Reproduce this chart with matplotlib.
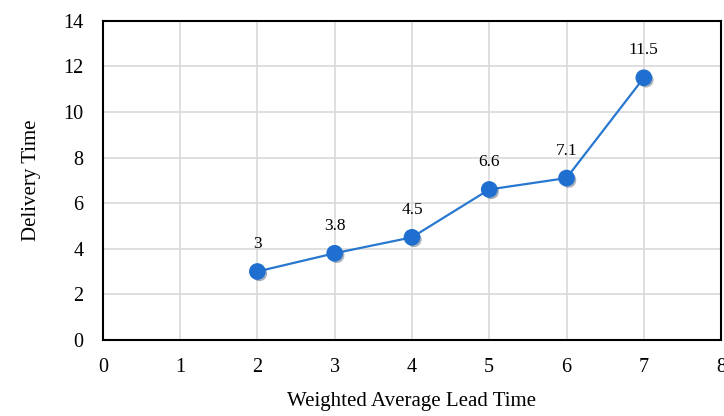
import matplotlib
matplotlib.use("Agg")
import matplotlib.pyplot as plt
import matplotlib.patheffects as pe

# data
lead_time = [2, 3, 4, 5, 6, 7]
delivery_time = [3, 3.8, 4.5, 6.6, 7.1, 11.5]
labels = ["3", "3.8", "4.5", "6.6", "7.1", "11.5"]

plt.rcParams['font.family'] = ['Liberation Serif', 'DejaVu Serif']

fig = plt.figure(figsize=(7.24, 4.16), dpi=100)
ax = fig.add_axes([0.142, 0.183, 0.854, 0.767])

ax.plot(lead_time, delivery_time, color='#2878d0', lw=1.6, zorder=3)
ax.plot(lead_time, delivery_time, ls='none', marker='o', ms=11,
        mfc='#1f6fd0', mec='#1f6fd0', zorder=4,
        path_effects=[pe.SimplePatchShadow(offset=(1.5, -1.5), alpha=0.35), pe.Normal()])

for x, y, t in zip(lead_time, delivery_time, labels):
    ax.annotate(t, (x, y), xytext=(0, 14), textcoords='offset points',
                ha='center', va='bottom', fontsize=12.5)

ax.set_xlim(0, 8)
ax.set_ylim(0, 14)
ax.set_xticks(range(0, 9))
ax.set_yticks(range(0, 15, 2))
ax.grid(True, color='#d9d9d9', lw=1.2)
ax.set_axisbelow(True)
ax.tick_params(axis='x', length=0, labelsize=14.5, pad=13)
ax.tick_params(axis='y', length=0, labelsize=14.5, pad=14)
for s in ax.spines.values():
    s.set_color('black')
    s.set_linewidth(1.5)

ax.set_xlabel('Weighted Average Lead Time', fontsize=15, labelpad=11)
ax.set_ylabel('Delivery Time', fontsize=15, labelpad=16)

fig.savefig('out.png', dpi=100)
